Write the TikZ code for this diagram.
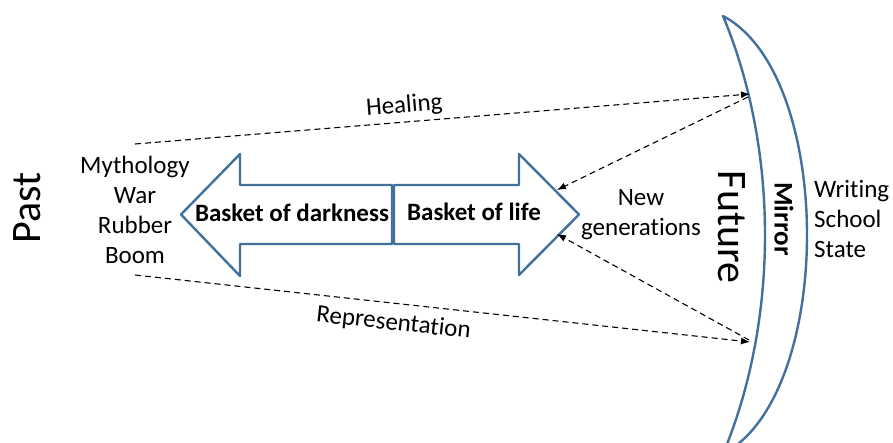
\documentclass[tikz,border=0pt]{standalone}
\usepackage{fontspec}
\setmainfont{Carlito}[Ligatures=NoCommon]
\usepackage{xcolor}
\definecolor{steel}{HTML}{41719C}
\usetikzlibrary{arrows.meta,positioning}
\tikzset{outline/.style={draw=steel,line width=2.4pt,line join=round,fill=white},link/.style={dash pattern=on 6pt off 4pt,line width=1.1pt,-{Latex[length=9pt,width=7pt]}},word/.style={font=\fontsize{25}{30}\selectfont,align=center,inner sep=2pt}}

\begin{document}
\begin{tikzpicture}[x=1pt,y=-1pt,
big/.style={font=\fontsize{42}{48}\selectfont,inner sep=0pt},
heavy/.style={word,font=\fontsize{25}{30}\selectfont\bfseries}]
\useasboundingbox[fill=white] (0,0) rectangle (893,443);
\clip (0,0) rectangle (893,443);
\draw[outline] (392,185)--(240,185)--(240,154)--(181,214.5)--(240,276)--(240,244)--(392,244)--cycle;
\draw[outline] (394,185)--(519,185)--(519,154)--(579,214.5)--(519,275)--(519,244)--(394,244)--cycle;
\draw[outline] (723,16) .. controls (835,75) and (835,395) .. (723,454) .. controls (779,320) and (779,150) .. (723,16)--cycle;
\node[heavy] (dark) at (292,213) {Basket of darkness};
\node[heavy] (life) at (474,212) {Basket of life};
\node[big,rotate=90] (past) at (27,208) {Past};
\node[big,rotate=-90] (future) at (732,227) {Future};
\node[heavy,rotate=-90,font=\fontsize{27}{30}\selectfont\bfseries] (mirror) at (784,219) {Mirror};
\node[word] (myth) at (135,210) {Mythology\\War\\Rubber\\Boom};
\node[word] (gen) at (641,215) {New\\generations};
\node[word,align=left,anchor=west] (state) at (812,219) {Writing\\School\\State};
\coordinate (hs) at (135,144);
\coordinate (he) at (750,94);
\coordinate (hd) at (748,97);
\coordinate (rs) at (135,275);
\coordinate (re) at (750,342);
\coordinate (rd) at (749,340);
\coordinate (ua) at (557,190);
\coordinate (la) at (557,234);
\draw[link] (hs)--node[word,above,sloped,pos=.44,yshift=3pt]{Healing}(he);
\draw[link] (rs)--node[word,below,sloped,pos=.424,yshift=-7pt]{Representation}(re);
\draw[link] (hd)--(ua);
\draw[link] (rd)--(la);
\end{tikzpicture}
\end{document}
